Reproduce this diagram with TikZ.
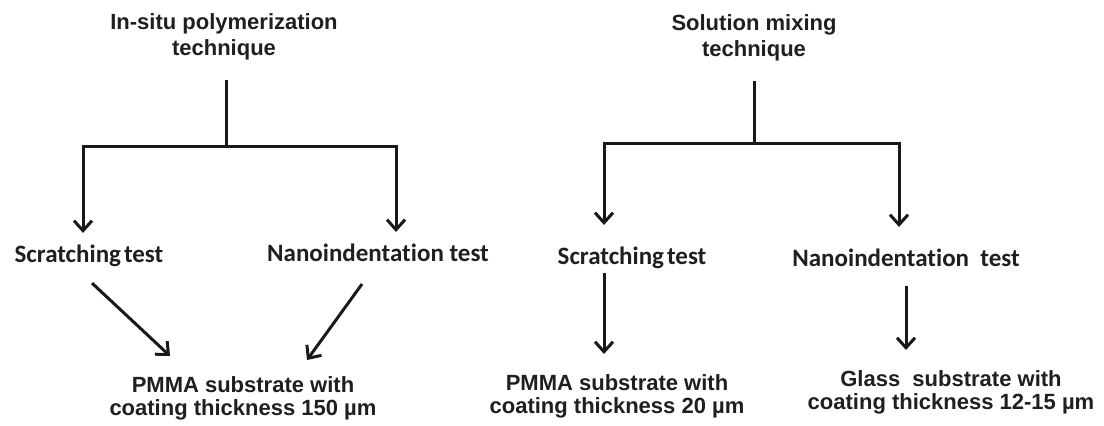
\documentclass[tikz,border=0pt]{standalone}
\usepackage{fontspec}
\setmainfont{Liberation Sans}
\newfontfamily\testfont[Ligatures=NoCommon]{Carlito}
\usetikzlibrary{arrows.meta,positioning,calc}

\begin{document}
\begin{tikzpicture}[
    x=1pt, y=-1pt,
    every node/.style={text=black!88},
    title/.style={font=\fontsize{22}{26}\selectfont\bfseries, align=center, inner sep=0pt},
    testlabel/.style={font=\testfont\fontsize{25}{28}\selectfont\bfseries, inner sep=0pt},
    result/.style={font=\fontsize{22}{23}\selectfont\bfseries, align=center, inner sep=0pt},
    line/.style={line width=3pt, draw=black!90},
    arrow/.style={line, -{Straight Barb[length=10pt, width=18pt, line width=3pt]}}
]
\useasboundingbox (0,0) rectangle (1104,426);

% LEFT: in-situ polymerization
\node[title] (insitu) at (224,37) {In-situ polymerization\\technique};
\coordinate (jl) at (226,146);
\coordinate (jlL) at (83,146);
\coordinate (jlR) at (396,146);

\node[testlabel] (scrl) at (89,256) {Scratching\hspace{0.12em}test};
\node[testlabel] (nanol) at (378,253) {Nanoindentation test};
\node[result] (resl) at (243,398) {PMMA substrate with\\coating thickness 150 µm};

\draw[line, shorten <=20pt] (insitu.south -| jl) -- (jl);
\draw[arrow, shorten >=12pt] (jl) -- (jlL) -- (jlL |- scrl.north);
\draw[arrow, shorten >=12pt] (jl) -- (jlR) -- (jlR |- nanol.north);
\draw[arrow] ($(scrl.south)+(3,16)$) -- ($(resl.north)+(-73,-20)$);
\draw[arrow] ($(nanol.south)+(-16,22)$) -- ($(resl.north)+(64,-16)$);

% RIGHT: solution mixing
\node[title] (solmix) at (754,38) {Solution mixing\\technique};
\coordinate (jr) at (754,143);
\coordinate (jrL) at (604,143);
\coordinate (jrR) at (899,143);

\node[testlabel] (scrr) at (632,258) {Scratching\hspace{0.12em}test};
\node[testlabel] (nanor) at (906,258) {Nanoindentation\ \ test};
\node[result] (resr) at (617,396) {PMMA substrate with\\coating thickness 20 µm};
\node[result] (resg) at (951,392) {Glass\ \ substrate with\\coating thickness 12-15 µm};

\draw[line, shorten <=20pt] (solmix.south -| jr) -- (jr);
\draw[arrow, shorten >=22pt] (jr) -- (jrL) -- (jrL |- scrr.north);
\draw[arrow, shorten >=22pt] (jr) -- (jrR) -- (jrR |- nanor.north);
\draw[arrow, shorten <=4pt, shorten >=20pt] (scrr.south -| jrL) -- (resr.north -| jrL);
\draw[arrow, shorten <=19pt, shorten >=20pt] (nanor.south) -- (nanor.south |- resg.north);

\end{tikzpicture}
\end{document}
